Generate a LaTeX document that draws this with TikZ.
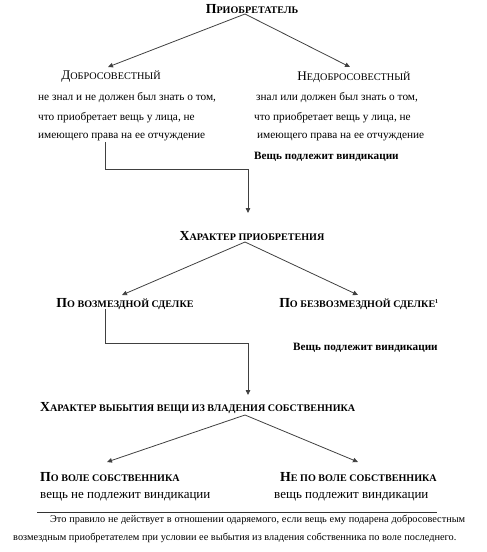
\documentclass[tikz,border=0pt]{standalone}
\usepackage{fontspec}
\setmainfont{Liberation Serif}
\usetikzlibrary{arrows.meta}
\newcommand{\scb}[2]{{\fontsize{13.8}{15}\selectfont #1}{\fontsize{10.1}{11}\selectfont #2}}
\newcommand{\scn}[2]{{\fontsize{13.2}{15}\selectfont #1}{\fontsize{10.2}{11}\selectfont #2}}
\begin{document}
\begin{tikzpicture}[x=1pt,y=-1pt,
  ln/.style={draw=black!75,line width=0.8pt},
  arr/.style={ln,-{Triangle[length=5pt,width=4.5pt]}},
  hd/.style={inner sep=0pt,font=\bfseries},
  tx/.style={inner sep=0pt,font=\fontsize{11.3}{13}\selectfont,anchor=west},
  bx/.style={inner sep=0pt,font=\fontsize{11.2}{13}\selectfont\bfseries,anchor=west},
  wx/.style={inner sep=0pt,font=\fontsize{13}{15}\selectfont,anchor=west}]
\useasboundingbox (0,0) rectangle (487,552);
% level 1
\node[hd] (acq) at (252,9) {\scb{П}{РИОБРЕТАТЕЛЬ}};
\coordinate (acqs) at (245,14);
\node[inner sep=0pt] (good) at (111,77) {\scn{Д}{ОБРОСОВЕСТНЫЙ}};
\node[inner sep=0pt] (bad) at (354,77) {\scn{Н}{ЕДОБРОСОВЕСТНЫЙ}};
\draw[arr] (acqs) -- (108,67);
\draw[arr] (acqs) -- (350,67);
\node[tx] (g1) at (38,98) {не знал и не должен был знать о том,};
\node[tx] (g2) at (38,118) {что приобретает вещь у лица, не};
\node[tx] (g3) at (38,137) {имеющего права на ее отчуждение};
\node[tx] (b1) at (256,98) {знал или должен был знать о том,};
\node[tx] (b2) at (254,118) {что приобретает вещь у лица, не};
\node[tx] (b3) at (257,137) {имеющего права на ее отчуждение};
\node[bx] (b4) at (254,157) {Вещь подлежит виндикации};
% level 2
\node[hd] (char) at (252,236) {\scb{Х}{АРАКТЕР ПРИОБРЕТЕНИЯ}};
\coordinate (g3d) at (105,142);
\draw[arr] (g3d) -- (105,169) -- (248,169) -- (248,213);
\coordinate (chars) at (245,242);
\node[hd] (paid) at (125,304) {\scb{П}{О ВОЗМЕЗДНОЙ СДЕЛКЕ}};
\node[hd] (free) at (359,304) {\scb{П}{О БЕЗВОЗМЕЗДНОЙ СДЕЛКЕ}\textsuperscript{\fontsize{6}{6}\selectfont 1}};
\draw[arr] (chars) -- (122,295);
\draw[arr] (chars) -- (358,295);
\node[bx] (f1) at (293,348) {Вещь подлежит виндикации};
% level 3
\coordinate (paidd) at (105,309);
\node[hd,anchor=west] (loss) at (40,408) {\scb{Х}{АРАКТЕР ВЫБЫТИЯ ВЕЩИ ИЗ ВЛАДЕНИЯ СОБСТВЕННИКА}};
\draw[arr] (paidd) -- (105,343) -- (248,343) -- (248,395);
\coordinate (losss) at (245,415);
\node[hd,anchor=west] (will) at (40,477) {\scb{П}{О ВОЛЕ СОБСТВЕННИКА}};
\node[hd,anchor=west] (nowill) at (280,477) {\scb{Н}{Е ПО ВОЛЕ СОБСТВЕННИКА}};
\draw[arr] (losss) -- (107,462);
\draw[arr] (losss) -- (358,462);
\node[wx] (w1) at (40,497) {вещь не подлежит виндикации};
\node[wx] (n1) at (274,497) {вещь подлежит виндикации};
% footnote
\draw[black!80,line width=0.6pt] (37,512) -- (437,512);
\node[inner sep=0pt,anchor=north west,text width=452pt,align=justify,font=\fontsize{10.3}{18}\selectfont] (fn) at (13,515)
 {\hspace*{37pt}Это правило не действует в отношении одаряемого, если вещь ему подарена добросовестным возмездным приобретателем при условии ее выбытия из владения собственника по воле последнего.};
\end{tikzpicture}
\end{document}
